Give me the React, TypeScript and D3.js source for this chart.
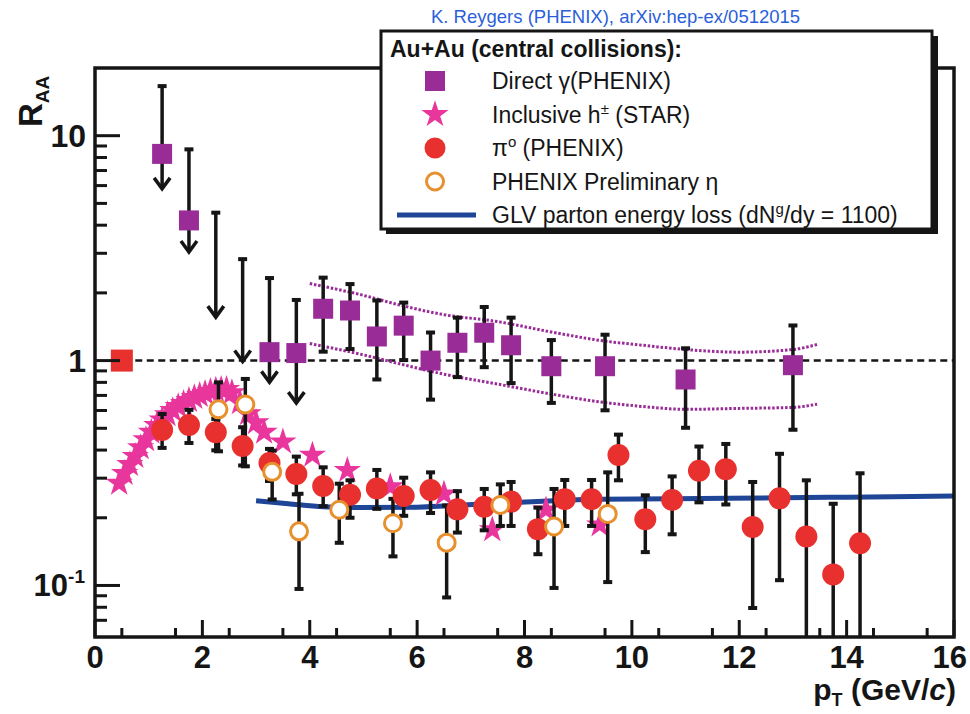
import React from "react";
import * as d3 from "d3";

const W = 970;
const H = 714;

// ---- Direct photons (PHENIX): upper limits drawn as arrows ----
const limitPt = [1.25, 1.75, 2.25, 2.75, 3.25, 3.75];
const limitTop = [16.7, 8.74, 4.57, 2.84, 2.34, 1.87];
const limitTip = [5.8, 3.04, 1.56, 0.99, 0.8, 0.647];
const limitVal: (number | null)[] = [8.3, 4.2, null, null, 1.09, 1.08];

// ---- Direct photons (PHENIX): measured points ----
const gammaPt = [4.25, 4.75, 5.25, 5.75, 6.25, 6.75, 7.25, 7.75, 8.5, 9.5, 11, 13];
const gammaVal = [1.7, 1.67, 1.28, 1.43, 1.0, 1.2, 1.33, 1.17, 0.944, 0.944, 0.824, 0.954];
const gammaHi = [2.35, 2.2, 1.86, 1.82, 1.34, 1.56, 1.74, 1.56, 1.24, 1.31, 1.14, 1.44];
const gammaLo = [1.09, 1.12, 0.82, 1.0, 0.667, 0.84, 0.93, 0.79, 0.645, 0.598, 0.5, 0.49];

// systematic band around the photon points
const bandPt = [4.0, 5.0, 5.7, 6.5, 7.5, 8.5, 9.4, 10.2, 11.0, 12.0, 13.0, 13.45];
const bandUpper = [2.2, 1.95, 1.76, 1.6, 1.49, 1.34, 1.23, 1.17, 1.12, 1.09, 1.12, 1.18];
const bandLower = [1.19, 1.06, 0.964, 0.87, 0.786, 0.71, 0.655, 0.625, 0.607, 0.613, 0.619, 0.64];

// ---- Inclusive charged hadrons (STAR) ----
const hPt = [
  0.45, 0.55, 0.65, 0.75, 0.85, 0.95, 1.05, 1.15, 1.25, 1.35, 1.45, 1.55, 1.65, 1.75,
  1.85, 1.95, 2.05, 2.15, 2.25, 2.35, 2.45, 2.55, 2.7, 2.85, 3.0, 3.15, 3.5, 4.05,
  4.7, 5.5, 6.5, 7.4, 8.4, 9.4,
];
const hVal = [
  0.285, 0.315, 0.345, 0.375, 0.41, 0.445, 0.48, 0.515, 0.545, 0.575, 0.6, 0.625, 0.645, 0.665,
  0.685, 0.7, 0.715, 0.73, 0.74, 0.745, 0.745, 0.72, 0.65, 0.58, 0.53, 0.48, 0.435, 0.38,
  0.325, 0.275, 0.255, 0.177, 0.217, 0.186,
];

// ---- Neutral pions (PHENIX) ----
const pi0Pt = [
  1.25, 1.75, 2.25, 2.75, 3.25, 3.75, 4.25, 4.75, 5.25, 5.75, 6.25, 6.75, 7.25, 7.75,
  8.25, 8.75, 9.25, 9.75, 10.25, 10.75, 11.25, 11.75, 12.25, 12.75, 13.25, 13.75, 14.25,
];
const pi0Val = [
  0.491, 0.517, 0.48, 0.417, 0.35, 0.313, 0.277, 0.253, 0.27, 0.25, 0.266, 0.218, 0.224, 0.236,
  0.178, 0.242, 0.242, 0.38, 0.197, 0.24, 0.324, 0.329, 0.182, 0.244, 0.165, 0.112, 0.154,
];
const pi0Hi = [
  0.582, 0.607, 0.553, 0.508, 0.407, 0.376, 0.337, 0.295, 0.328, 0.303, 0.32, 0.264, 0.27, 0.29,
  0.223, 0.296, 0.296, 0.471, 0.253, 0.307, 0.417, 0.428, 0.29, 0.387, 0.295, 0.232, 0.317,
];
const pi0Lo = [
  0.407, 0.428, 0.397, 0.34, 0.29, 0.253, 0.224, 0.199, 0.218, 0.203, 0.209, 0.171, 0.175, 0.183,
  0.137, 0.183, 0.183, 0.292, 0.14, 0.168, 0.233, 0.228, 0.079, 0.105, 0.04, 0.04, 0.04,
];

// ---- Eta mesons (PHENIX preliminary) ----
const etaPt = [2.3, 2.8, 3.3, 3.8, 4.55, 5.55, 6.55, 7.55, 8.55, 9.55];
const etaVal = [0.607, 0.638, 0.32, 0.174, 0.217, 0.189, 0.155, 0.228, 0.183, 0.208];
const etaHi = [0.804, 0.833, 0.4, 0.257, 0.285, 0.244, 0.228, 0.283, 0.27, 0.32];
const etaLo = [0.393, 0.337, 0.24, 0.096, 0.154, 0.134, 0.088, 0.183, 0.097, 0.103];

// ---- GLV parton energy loss curve ----
const glvPt = [3.0, 3.6, 4.25, 4.9, 6.0, 7.5, 9.4, 11.8, 14.0, 16.0];
const glvVal = [0.238, 0.231, 0.224, 0.222, 0.223, 0.232, 0.242, 0.244, 0.247, 0.25];

// normalisation uncertainty box at R_AA = 1
const normPt = 0.5;
const normVal = 1;

// ---- axes ----
const xMajor = [0, 2, 4, 6, 8, 10, 12, 14, 16];
const xMinor = d3.range(0.5, 16, 1);
const yMajor = [0.1, 1, 10];
const yMinor = [0.07, 0.08, 0.09, 0.2, 0.3, 0.4, 0.5, 0.6, 0.7, 0.8, 0.9, 2, 3, 4, 5, 6, 7, 8, 9];

const PURPLE = "#9a2c98";
const PINK = "#e8369d";
const RED = "#e8302e";
const ORANGE = "#e8902e";
const BLUE = "#1f4597";
const BLACK = "#151515";
const FONT = "'Liberation Sans', Arial, Helvetica, sans-serif";

const plot = { left: 95, right: 954, top: 68, bottom: 637 };

const x = d3.scaleLinear().domain([0, 16]).range([plot.left, plot.right]);
const y = d3.scaleLog().domain([0.059, 20]).range([plot.bottom, plot.top]);

const starGen = d3.symbol().type(d3.symbolStar);

function ErrorBar({ px, hi, lo }: { px: number; hi: number; lo: number }) {
  const cx = x(px);
  const y1 = y(hi);
  const y2 = y(lo);
  return (
    <g>
      <line x1={cx} x2={cx} y1={y1} y2={y2} stroke={BLACK} strokeWidth={3.5} />
      <rect x={cx - 4.5} y={y1 - 1.5} width={9} height={4} fill={BLACK} />
      <rect x={cx - 4.5} y={y2 - 2.5} width={9} height={4} fill={BLACK} />
    </g>
  );
}

export default function App() {
  const bandLine = d3
    .line<number>()
    .x((_, i) => x(bandPt[i]))
    .curve(d3.curveMonotoneX);
  const upperPath = bandLine.y((d) => y(d))(bandUpper) || "";
  const lowerPath = bandLine.y((d) => y(d))(bandLower) || "";

  const glvPath =
    d3
      .line<number>()
      .x((_, i) => x(glvPt[i]))
      .y((d) => y(d))
      .curve(d3.curveMonotoneX)(glvVal) || "";

  const legendRows = [81, 114.5, 148, 181.5, 215];
  const legX = 435;
  const legTextX = 492;
  const lastTick = xMajor[xMajor.length - 1];

  return (
    <div style={{ position: "absolute", left: 0, top: 0 }}>
      <svg width={W} height={H} viewBox={`0 0 ${W} ${H}`} style={{ display: "block", background: "#fff" }}>
        <defs>
          <clipPath id="plotClip">
            <rect x={plot.left} y={plot.top} width={plot.right - plot.left} height={plot.bottom - plot.top} />
          </clipPath>
        </defs>

        {/* title */}
        <text x={431} y={23} fontFamily={FONT} fontSize={18.5} fill="#2b5fd9">
          K. Reygers (PHENIX), arXiv:hep-ex/0512015
        </text>

        <g clipPath="url(#plotClip)">
          {/* R_AA = 1 reference */}
          <line
            x1={x(0.75)}
            x2={plot.right}
            y1={y(1)}
            y2={y(1)}
            stroke={BLACK}
            strokeWidth={2.5}
            strokeDasharray="7 4.5"
          />
          <rect x={x(normPt) - 11} y={y(normVal) - 11} width={22} height={22} fill={RED} />

          {/* systematic band of photon points */}
          <path d={upperPath} fill="none" stroke={PURPLE} strokeWidth={3} strokeDasharray="2.5 1.8" />
          <path d={lowerPath} fill="none" stroke={PURPLE} strokeWidth={3} strokeDasharray="2.5 1.8" />

          {/* GLV curve */}
          <path d={glvPath} fill="none" stroke={BLUE} strokeWidth={5} />

          {/* STAR hadrons */}
          {hPt.map((p, i) => (
            <path
              key={`h${i}`}
              d={starGen.size(230)() || ""}
              transform={`translate(${x(p)},${y(hVal[i])})`}
              fill={PINK}
            />
          ))}

          {/* error bars */}
          {pi0Pt.map((p, i) => (
            <ErrorBar key={`pe${i}`} px={p} hi={pi0Hi[i]} lo={pi0Lo[i]} />
          ))}
          {etaPt.map((p, i) => (
            <ErrorBar key={`ee${i}`} px={p} hi={etaHi[i]} lo={etaLo[i]} />
          ))}
          {gammaPt.map((p, i) => (
            <ErrorBar key={`ge${i}`} px={p} hi={gammaHi[i]} lo={gammaLo[i]} />
          ))}

          {/* upper limits */}
          {limitPt.map((p, i) => {
            const cx = x(p);
            const yt = y(limitTop[i]);
            const yb = y(limitTip[i]);
            return (
              <g key={`lim${i}`}>
                <line x1={cx} x2={cx} y1={yt} y2={yb} stroke={BLACK} strokeWidth={3.5} />
                <rect x={cx - 4.5} y={yt - 1.5} width={9} height={4} fill={BLACK} />
                <path
                  d={`M${cx - 8},${yb - 11} L${cx},${yb} L${cx + 8},${yb - 11}`}
                  fill="none"
                  stroke={BLACK}
                  strokeWidth={3.5}
                />
                {limitVal[i] !== null && (
                  <rect
                    x={cx - 10}
                    y={y(limitVal[i] as number) - 10}
                    width={20}
                    height={20}
                    fill={PURPLE}
                  />
                )}
              </g>
            );
          })}

          {/* photon points */}
          {gammaPt.map((p, i) => (
            <rect key={`g${i}`} x={x(p) - 10} y={y(gammaVal[i]) - 10} width={20} height={20} fill={PURPLE} />
          ))}

          {/* pi0 */}
          {pi0Pt.map((p, i) => (
            <circle key={`p${i}`} cx={x(p)} cy={y(pi0Val[i])} r={11} fill={RED} />
          ))}

          {/* eta */}
          {etaPt.map((p, i) => (
            <circle
              key={`e${i}`}
              cx={x(p)}
              cy={y(etaVal[i])}
              r={8.5}
              fill="#fff"
              stroke={ORANGE}
              strokeWidth={3}
            />
          ))}
        </g>

        {/* frame */}
        <rect
          x={plot.left}
          y={plot.top}
          width={plot.right - plot.left}
          height={plot.bottom - plot.top}
          fill="none"
          stroke={BLACK}
          strokeWidth={3.5}
        />

        {/* x ticks */}
        {xMajor.map((t) => (
          <line key={`xM${t}`} x1={x(t)} x2={x(t)} y1={plot.bottom} y2={plot.bottom - 17} stroke={BLACK} strokeWidth={3} />
        ))}
        {xMinor.map((t) => (
          <line key={`xm${t}`} x1={x(t)} x2={x(t)} y1={plot.bottom} y2={plot.bottom - 9} stroke={BLACK} strokeWidth={3} />
        ))}
        {xMajor.map((t) => (
          <text
            key={`xl${t}`}
            x={t === lastTick ? W - 3 : x(t)}
            y={668}
            textAnchor={t === lastTick ? "end" : "middle"}
            fontFamily={FONT}
            fontWeight="bold"
            fontSize={31}
            fill={BLACK}
          >
            {t}
          </text>
        ))}

        {/* y ticks */}
        {yMajor.map((t) => (
          <line key={`yM${t}`} x1={plot.left} x2={plot.left + 25} y1={y(t)} y2={y(t)} stroke={BLACK} strokeWidth={3} />
        ))}
        {yMinor.map((t) => (
          <line key={`ym${t}`} x1={plot.left} x2={plot.left + 12} y1={y(t)} y2={y(t)} stroke={BLACK} strokeWidth={3} />
        ))}
        <text x={86} y={y(10) + 11.5} textAnchor="end" fontFamily={FONT} fontWeight="bold" fontSize={32} fill={BLACK}>
          10
        </text>
        <text x={86} y={y(1) + 11.5} textAnchor="end" fontFamily={FONT} fontWeight="bold" fontSize={32} fill={BLACK}>
          1
        </text>
        <text x={85} y={y(0.1) + 11} textAnchor="end" fontFamily={FONT} fontWeight="bold" fontSize={31} fill={BLACK}>
          10
          <tspan fontSize={19} dy={-13}>
            -1
          </tspan>
        </text>

        {/* axis titles */}
        <text transform="translate(42,127) rotate(-90)" fontFamily={FONT} fontWeight="bold" fill={BLACK}>
          <tspan fontSize={33}>R</tspan>
          <tspan fontSize={19} dy={7}>
            AA
          </tspan>
        </text>
        <text x={956} y={700} textAnchor="end" fontFamily={FONT} fontWeight="bold" fill={BLACK} fontSize={30}>
          p
          <tspan fontSize={18} dy={6}>
            T
          </tspan>
          <tspan dy={-6}> (GeV/</tspan>
          <tspan fontStyle="italic">c</tspan>)
        </text>

        {/* legend */}
        <rect x={386} y={36} width={552} height={198} fill={BLACK} />
        <rect x={381} y={31} width={551} height={198} fill="#fff" stroke={BLACK} strokeWidth={3} />
        <text x={390} y={57} fontFamily={FONT} fontWeight="bold" fontSize={23} fill={BLACK}>
          Au+Au (central collisions):
        </text>

        <rect x={legX - 10} y={legendRows[0] - 10} width={20} height={20} fill={PURPLE} />
        <path d={starGen.size(230)() || ""} transform={`translate(${legX},${legendRows[1]})`} fill={PINK} />
        <circle cx={legX} cy={legendRows[2]} r={10.5} fill={RED} />
        <circle cx={legX} cy={legendRows[3]} r={8.5} fill="#fff" stroke={ORANGE} strokeWidth={3} />
        <line x1={397} x2={476} y1={legendRows[4]} y2={legendRows[4]} stroke={BLUE} strokeWidth={5} />

        <g fontFamily={FONT} fontSize={23} fill={BLACK}>
          <text x={legTextX} y={legendRows[0] + 8}>
            Direct γ(PHENIX)
          </text>
          <text x={legTextX} y={legendRows[1] + 8}>
            Inclusive h
            <tspan fontSize={15} dy={-9}>
              ±
            </tspan>
            <tspan dy={9}> (STAR)</tspan>
          </text>
          <text x={legTextX} y={legendRows[2] + 8}>
            π
            <tspan fontSize={15} dy={-9}>
              o
            </tspan>
            <tspan dy={9}> (PHENIX)</tspan>
          </text>
          <text x={legTextX} y={legendRows[3] + 8}>
            PHENIX Preliminary η
          </text>
          <text x={legTextX} y={legendRows[4] + 8}>
            GLV parton energy loss (dN
            <tspan fontSize={15} dy={-9}>
              g
            </tspan>
            <tspan dy={9}>/dy = 1100)</tspan>
          </text>
        </g>
      </svg>
    </div>
  );
}
